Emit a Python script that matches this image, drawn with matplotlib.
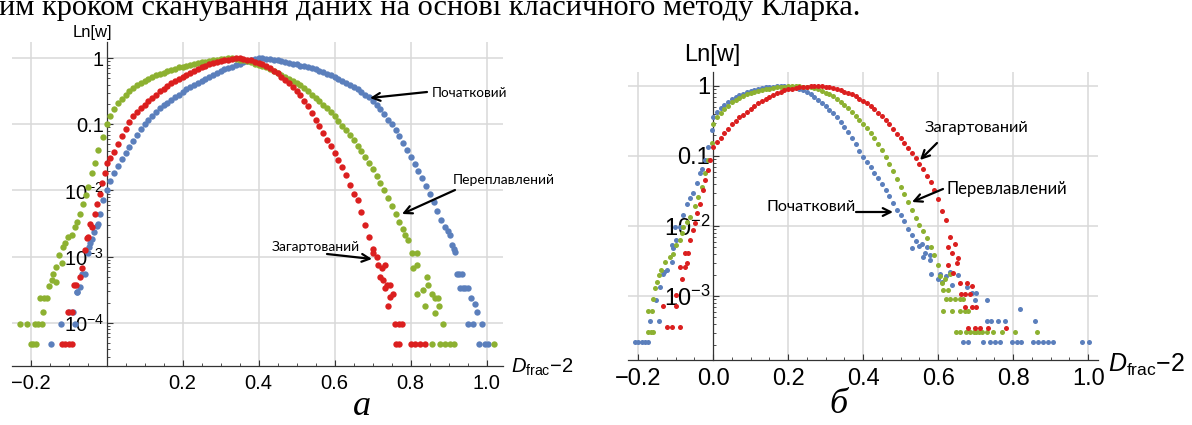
import numpy as np
import matplotlib
matplotlib.use('Agg')
import matplotlib.pyplot as plt
from matplotlib.ticker import FixedLocator, FixedFormatter, LogLocator, NullFormatter

plt.rcParams['font.family'] = ['Liberation Sans', 'DejaVu Sans']
plt.rcParams['mathtext.fontset'] = 'custom'
plt.rcParams['mathtext.rm'] = 'Liberation Sans'
plt.rcParams['mathtext.it'] = 'Liberation Sans:italic'
plt.rcParams['mathtext.bf'] = 'Liberation Sans:bold'

W, H = 1192, 425

# ---------------- data (log10 of w) ----------------
STEP = 0.01
# Panel a
A_BLUE_X0 = 0.00
A_BLUE_LOG = [-2.00, -1.86, -1.74, -1.63, -1.53, -1.43, -1.34, -1.25, -1.16, -1.07,
              -0.99, -0.93, -0.87, -0.81, -0.76, -0.71, -0.67, -0.63, -0.59, -0.55,
              -0.51, -0.47, -0.44, -0.41, -0.38, -0.35, -0.32, -0.29, -0.26, -0.23,
              -0.20, -0.17, -0.15, -0.13, -0.10, -0.08, -0.06, -0.04, -0.02, -0.01,
              0.00, 0.00, -0.01, -0.01, -0.02, -0.03, -0.04, -0.05, -0.07, -0.08,
              -0.09, -0.11, -0.12, -0.14, -0.15, -0.17, -0.19, -0.21, -0.24, -0.26,
              -0.29, -0.32, -0.35, -0.38, -0.41, -0.44, -0.47, -0.51, -0.55, -0.59,
              -0.64, -0.70, -0.77, -0.85, -0.93, -1.00, -1.09, -1.18, -1.28, -1.39,
              -1.50, -1.60, -1.70, -1.81, -1.93, -2.05, -2.18, -2.31, -2.45]
A_BLUE_TAIL_X = [-0.009, -0.018, -0.022, -0.026, -0.033, -0.039, -0.044, -0.046, -0.048, -0.057,
                 -0.066, -0.070, -0.077, -0.079, -0.088, -0.100, -0.083, -0.120, -0.147,
                 0.891, 0.897, 0.903, 0.908, 0.913, 0.917, 0.921, 0.928, 0.934,
                 0.930, 0.937, 0.944, 0.951, 0.958, 0.969, 0.974,
                 0.952, 0.965, 0.987, 0.980, 0.996, 1.004]
A_BLUE_TAIL_LOG = [-2.15, -2.35, -2.50, -2.53, -2.63, -2.73, -2.80, -2.85, -2.95, -3.26,
                   -3.26, -3.46, -3.54, -3.54, -3.84, -3.84, -4.02, -4.02, -4.32,
                   -2.55, -2.62, -2.67, -2.83, -2.88, -2.93, -3.26, -3.26, -3.26,
                   -3.48, -3.48, -3.48, -3.48, -3.62, -3.71, -3.84,
                   -4.02, -4.02, -4.02, -4.32, -4.32, -4.32]

A_GREEN_X0 = 0.00
A_GREEN_LOG = [-1.00, -0.88, -0.77, -0.68, -0.61, -0.55, -0.50, -0.45, -0.41, -0.37,
               -0.34, -0.31, -0.28, -0.26, -0.24, -0.22, -0.20, -0.18, -0.16, -0.14,
               -0.13, -0.11, -0.10, -0.08, -0.07, -0.06, -0.05, -0.04, -0.03, -0.02,
               -0.01, -0.01, 0.00, 0.00, -0.01, -0.02, -0.03, -0.04, -0.06, -0.08,
               -0.10, -0.12, -0.14, -0.17, -0.19, -0.22, -0.25, -0.28, -0.31, -0.34,
               -0.37, -0.41, -0.45, -0.50, -0.55, -0.60, -0.65, -0.70, -0.76, -0.82,
               -0.88, -0.95, -1.02, -1.09, -1.16, -1.24, -1.32, -1.40, -1.49, -1.58,
               -1.68, -1.78, -1.89, -2.00, -2.12, -2.24, -2.36, -2.48, -2.58]
A_GREEN_TAIL_X = [-0.009, -0.022, -0.031, -0.039, -0.048, -0.055, -0.062, -0.070, -0.078, -0.083,
                  -0.092, -0.101, -0.110, -0.114, -0.125, -0.118, -0.132, -0.140, -0.145, -0.133,
                  -0.151, -0.175, -0.165, -0.157, -0.168, -0.228, -0.210, -0.189, -0.180, -0.171,
                  -0.200, -0.193, -0.185,
                  0.785, 0.794, 0.803, 0.816, 0.807, 0.816, 0.842, 0.846, 0.833, 0.855,
                  0.816, 0.864, 0.873, 0.838, 0.875, 0.864, 0.886, 0.855, 0.877, 0.890,
                  0.903, 0.914, 1.019]
A_GREEN_TAIL_LOG = [-1.19, -1.39, -1.59, -1.74, -1.95, -2.07, -2.20, -2.35, -2.47, -2.55,
                    -2.68, -2.70, -2.80, -2.85, -2.98, -3.10, -3.16, -3.26, -3.36, -3.38,
                    -3.45, -3.62, -3.62, -3.62, -3.84, -4.02, -4.02, -4.02, -4.02, -4.02,
                    -4.32, -4.32, -4.32,
                    -2.68, -2.75, -2.95, -2.95, -3.18, -3.13, -3.31, -3.43, -3.51, -3.56,
                    -3.57, -3.62, -3.62, -3.74, -3.74, -3.86, -4.02, -4.32, -4.32, -4.32,
                    -4.32, -4.32, -4.32]

A_RED_X0 = 0.00
A_RED_LOG = [-1.59, -1.51, -1.42, -1.30, -1.18, -1.07, -0.97, -0.88, -0.82, -0.76,
             -0.70, -0.65, -0.60, -0.55, -0.50, -0.46, -0.42, -0.38, -0.34, -0.31,
             -0.28, -0.25, -0.22, -0.19, -0.16, -0.14, -0.12, -0.09, -0.07, -0.05,
             -0.04, -0.03, -0.02, -0.01, 0.00, 0.00, -0.01, -0.02, -0.03, -0.05,
             -0.07, -0.09, -0.12, -0.15, -0.19, -0.23, -0.28, -0.33, -0.38, -0.43,
             -0.49, -0.56, -0.64, -0.73, -0.83, -0.93, -1.03, -1.13, -1.23, -1.33,
             -1.43, -1.54, -1.65, -1.77, -1.92, -2.05, -2.15, -2.33, -2.52, -2.70,
             -2.88]
A_RED_TAIL_X = [-0.004, -0.013, -0.018, -0.026, -0.031, -0.039, -0.044, -0.048, -0.051, -0.057,
                -0.066, -0.070, -0.081, -0.086, -0.101, -0.092, -0.118, -0.110, -0.100, -0.090,
                0.702, 0.711, 0.715, 0.724, 0.719, 0.728, 0.732, 0.737, 0.746, 0.732,
                0.746, 0.754, 0.739, 0.759, 0.768, 0.776, 0.761, 0.770, 0.800, 0.811,
                0.825, 0.838]
A_RED_TAIL_LOG = [-1.74, -1.89, -2.05, -2.20, -2.35, -2.55, -2.50, -2.70, -2.72, -2.90,
                  -3.18, -3.31, -3.43, -3.43, -3.84, -3.84, -4.32, -4.32, -4.32, -4.32,
                  -2.95, -3.00, -3.13, -3.18, -3.31, -3.36, -3.13, -3.43, -3.43, -3.48,
                  -3.61, -3.56, -3.74, -4.02, -4.02, -4.02, -4.32, -4.32, -4.32, -4.32,
                  -4.32, -4.32]

# Panel b
B_BLUE_X0 = 0.00
B_BLUE_LOG = [-0.45, -0.37, -0.31, -0.27, -0.23, -0.19, -0.16, -0.13, -0.11, -0.09,
              -0.07, -0.06, -0.04, -0.03, -0.02, -0.01, -0.01, 0.00, 0.00, 0.00,
              -0.01, -0.01, -0.02, -0.04, -0.06, -0.08, -0.12, -0.16, -0.20, -0.24,
              -0.29, -0.34, -0.39, -0.45, -0.52, -0.59, -0.66, -0.74, -0.83, -0.93,
              -1.01, -1.09, -1.16, -1.24, -1.31, -1.40, -1.49, -1.57, -1.67, -1.77,
              -1.85, -1.93, -2.04, -2.13, -2.21, -2.29]
B_BLUE_TAIL_X = [-0.004, -0.013, -0.022, -0.031, -0.036, -0.044, -0.053, -0.062, -0.071, -0.080,
                 -0.089, -0.102, -0.098, -0.107, -0.111, -0.111, -0.124, -0.131, -0.135, -0.142,
                 -0.153, -0.169, -0.144, -0.209, -0.200, -0.191, -0.182, -0.173,
                 0.529, 0.556, 0.560, 0.565, 0.569, 0.578, 0.578, 0.582, 0.600, 0.604,
                 0.609, 0.622, 0.631, 0.636, 0.653, 0.676, 0.689, 0.702, 0.698, 0.731,
                 0.818, 0.729, 0.742, 0.760, 0.778, 0.858, 0.667, 0.680, 0.720, 0.738,
                 0.751, 0.764, 0.796, 0.809, 0.822, 0.853, 0.867, 0.880, 0.893, 0.905,
                 0.984, 1.003]
B_BLUE_TAIL_LOG = [-0.63, -0.87, -1.06, -1.18, -1.25, -1.39, -1.53, -1.60, -1.68, -1.85,
                   -2.01, -2.01, -2.20, -2.32, -2.27, -2.51, -2.63, -2.66, -2.68, -2.87,
                   -3.06, -3.35, -3.35, -3.65, -3.65, -3.65, -3.65, -3.65,
                   -2.32, -2.25, -2.44, -2.39, -2.30, -2.41, -2.49, -2.68, -2.75, -2.68,
                   -2.80, -2.72, -2.65, -2.84, -2.70, -2.87, -2.96, -2.96, -3.06, -3.06,
                   -3.19, -3.35, -3.35, -3.35, -3.35, -3.35, -3.66, -3.66, -3.66, -3.66,
                   -3.66, -3.66, -3.66, -3.66, -3.66, -3.66, -3.66, -3.66, -3.66, -3.66,
                   -3.66, -3.66]

B_GREEN_X0 = 0.00
B_GREEN_LOG = [-0.55, -0.44, -0.38, -0.33, -0.28, -0.23, -0.20, -0.17, -0.15, -0.12,
               -0.10, -0.09, -0.07, -0.06, -0.05, -0.04, -0.03, -0.02, -0.01, -0.01,
               0.00, 0.00, 0.00, 0.00, -0.01, -0.01, -0.02, -0.03, -0.05, -0.07,
               -0.10, -0.12, -0.15, -0.19, -0.23, -0.27, -0.32, -0.37, -0.43, -0.49,
               -0.54, -0.60, -0.67, -0.75, -0.83, -0.92, -1.01, -1.11, -1.22, -1.33,
               -1.44, -1.55, -1.66, -1.77, -1.88, -1.98, -2.07, -2.17, -2.30, -2.42,
               -2.56]
B_GREEN_TAIL_X = [-0.004, -0.013, -0.022, -0.031, -0.040, -0.049, -0.062, -0.071, -0.080, -0.084,
                  -0.089, -0.098, -0.116, -0.107, -0.129, -0.138, -0.145, -0.151, -0.155, -0.160,
                  -0.173, -0.164, -0.173, -0.166, -0.160,
                  0.604, 0.609, 0.618, 0.631, 0.613, 0.625, 0.622, 0.631, 0.644, 0.658,
                  0.665, 0.612, 0.636, 0.658, 0.671, 0.680, 0.647, 0.658, 0.674, 0.684,
                  0.695, 0.702, 0.709, 0.718, 0.729, 0.747, 0.769, 0.805, 0.864]
B_GREEN_TAIL_LOG = [-0.82, -1.06, -1.25, -1.44, -1.58, -1.72, -1.87, -1.94, -2.01, -2.10,
                    -2.20, -2.27, -2.44, -2.40, -2.51, -2.63, -2.70, -2.80, -2.88, -3.04,
                    -3.21, -3.21, -3.51, -3.51, -3.51,
                    -2.72, -2.82, -2.75, -2.68, -2.91, -2.91, -3.04, -3.04, -3.04, -3.04,
                    -3.04, -3.21, -3.21, -3.21, -3.21, -3.21, -3.51, -3.51, -3.51, -3.51,
                    -3.51, -3.51, -3.51, -3.51, -3.51, -3.51, -3.51, -3.51, -3.51]

B_RED_X0 = 0.00
B_RED_LOG = [-0.87, -0.80, -0.74, -0.67, -0.61, -0.55, -0.50, -0.45, -0.41, -0.37,
             -0.33, -0.29, -0.25, -0.22, -0.19, -0.16, -0.13, -0.10, -0.08, -0.06,
             -0.05, -0.04, -0.03, -0.02, -0.01, -0.01, 0.00, 0.00, 0.00, 0.00,
             -0.01, -0.02, -0.03, -0.04, -0.06, -0.08, -0.10, -0.12, -0.15, -0.18,
             -0.21, -0.25, -0.29, -0.33, -0.38, -0.43, -0.49, -0.55, -0.61, -0.68,
             -0.75, -0.82, -0.89, -0.96, -1.03, -1.11, -1.19, -1.28, -1.37, -1.48,
             -1.62, -1.78, -1.92]
B_RED_TAIL_X = [-0.009, -0.013, -0.022, -0.027, -0.036, -0.044, -0.049, -0.053, -0.062, -0.076,
                -0.067, -0.071, -0.089, -0.076, -0.082, -0.100, -0.133, -0.098, -0.124, -0.111,
                -0.089,
                0.631, 0.644, 0.636, 0.627, 0.653, 0.649, 0.627, 0.640, 0.658, 0.676,
                0.689, 0.662, 0.671, 0.684, 0.671, 0.689, 0.702, 0.680, 0.698, 0.711,
                0.733, 0.782]
B_RED_TAIL_LOG = [-1.06, -1.20, -1.34, -1.49, -1.68, -1.82, -1.96, -2.06, -2.20, -2.39,
                  -2.39, -2.53, -2.58, -2.58, -2.75, -2.99, -3.14, -3.14, -3.44, -3.44,
                  -3.44,
                  -2.15, -2.25, -2.39, -2.30, -2.46, -2.53, -2.56, -2.67, -2.82, -2.82,
                  -2.85, -2.97, -2.97, -2.97, -3.15, -3.15, -3.15, -3.45, -3.45, -3.45,
                  -3.45, -3.45]

SERIES_NAMES = ['Початковий', 'Переплавлений', 'Загартований']
PANEL_B_NAMES = ['Початковий', 'Перевлавлений', 'Загартований']
A_XTICKS = [-0.2, 0.2, 0.4, 0.6, 0.8, 1.0]
A_XLABELS = ['\u22120.2', '0.2', '0.4', '0.6', '0.8', '1.0']
B_XTICKS = [-0.2, 0.0, 0.2, 0.4, 0.6, 0.8, 1.0]
B_XLABELS = ['\u22120.2', '0.0', '0.2', '0.4', '0.6', '0.8', '1.0']
A_YDEC = [0, -1, -2, -3, -4]
A_YLABELS = ['1', '0.1', r'$10^{-2}$', r'$10^{-3}$', r'$10^{-4}$']
B_YDEC = [0, -1, -2, -3]
B_YLABELS = ['1', '0.1', r'$10^{-2}$', r'$10^{-3}$']
TOP_TEXT = 'им кроком сканування даних на основі класичного методу Кларка.'

BLUE = '#5b7fbc'
GREEN = '#8db131'
RED = '#db1f1f'
GRID = '#d9d9d9'
AXC = '#333333'


def dense(x0, logs):
    xs = np.array([x0 + STEP * i for i in range(len(logs))])
    return xs, 10.0 ** np.array(logs)


def fx(x):
    return x / W


def fy(y):
    return 1 - y / H


fig = plt.figure(figsize=(W / 100, H / 100), dpi=100)

axA = fig.add_axes([fx(12), fy(365.7), 490.7 / W, 324 / H])
axB = fig.add_axes([fx(628), fy(360), 470 / W, 288.3 / H])


def setup(ax, xlim, ylog, xt, xl, ydec, yl, fs, gridx):
    ax.set_xlim(*xlim)
    ax.set_yscale('log')
    ax.set_ylim(10 ** ylog[0], 10 ** ylog[1])
    ax.patch.set_alpha(0)
    for s in ['top', 'right']:
        ax.spines[s].set_visible(False)
    ax.spines['left'].set_position(('data', 0))
    for s in ['left', 'bottom']:
        ax.spines[s].set_color(AXC)
        ax.spines[s].set_linewidth(0.9)
    ax.xaxis.set_major_locator(FixedLocator(xt))
    ax.xaxis.set_major_formatter(FixedFormatter(xl))
    minors = [round(-0.25 + 0.05 * i, 2) for i in range(27)]
    minors = [m for m in minors if xlim[0] <= m <= xlim[1] and abs(round(m / 0.2) * 0.2 - m) > 1e-6]
    ax.xaxis.set_minor_locator(FixedLocator(minors))
    ax.yaxis.set_major_locator(FixedLocator([10.0 ** d for d in ydec]))
    ax.yaxis.set_major_formatter(FixedFormatter(yl))
    ax.yaxis.set_minor_locator(LogLocator(base=10, subs=np.arange(2, 10), numticks=20))
    ax.yaxis.set_minor_formatter(NullFormatter())
    ax.tick_params(which='major', direction='in', length=4.5, width=0.8, color=AXC,
                   labelsize=fs, labelcolor='black')
    ax.tick_params(which='minor', direction='in', length=2.3, width=0.6, color=AXC)
    ax.tick_params(axis='x', which='major', pad=6)
    ax.tick_params(axis='y', which='major', pad=2)
    for g in gridx:
        ax.axvline(g, color=GRID, lw=1.1, zorder=0)
    for d in ydec:
        ax.axhline(10.0 ** d, color=GRID, lw=1.1, zorder=0)


setup(axA, (-0.249, 1.042), (-4.65, 0.25), A_XTICKS, A_XLABELS, A_YDEC, A_YLABELS, 14.5, A_XTICKS)
setup(axB, (-0.227, 1.026), (-3.914, 0.204), B_XTICKS, B_XLABELS, B_YDEC, B_YLABELS, 17,
      [t for t in B_XTICKS if t != 0.0])

for ax, groups, s in [
    (axA, [(A_BLUE_X0, A_BLUE_LOG, A_BLUE_TAIL_X, A_BLUE_TAIL_LOG, BLUE),
           (A_GREEN_X0, A_GREEN_LOG, A_GREEN_TAIL_X, A_GREEN_TAIL_LOG, GREEN),
           (A_RED_X0, A_RED_LOG, A_RED_TAIL_X, A_RED_TAIL_LOG, RED)], 21),
    (axB, [(B_BLUE_X0, B_BLUE_LOG, B_BLUE_TAIL_X, B_BLUE_TAIL_LOG, BLUE),
           (B_GREEN_X0, B_GREEN_LOG, B_GREEN_TAIL_X, B_GREEN_TAIL_LOG, GREEN),
           (B_RED_X0, B_RED_LOG, B_RED_TAIL_X, B_RED_TAIL_LOG, RED)], 13)]:
    for x0, logs, tx, tl, col in groups:
        xs, ys = dense(x0, logs)
        ax.scatter(xs, ys, s=s, color=col, linewidths=0, zorder=3)
        ax.scatter(tx, 10.0 ** np.array(tl), s=s, color=col, linewidths=0, zorder=3)

# axis titles
fig.text(fx(92), fy(33), 'Ln[w]', fontsize=12, ha='center', va='center')
fig.text(fx(712), fy(55), 'Ln[w]', fontsize=17, ha='center', va='center')
fig.text(fx(511), fy(367), r'$D_{\mathrm{frac}}$' + '\u22122', fontsize=14.5, ha='left', va='center')
fig.text(fx(1108), fy(365), r'$D_{\mathrm{frac}}$' + '\u22122', fontsize=18, ha='left', va='center')

# captions
fig.text(fx(362), fy(415), 'а', fontsize=26, family='Liberation Serif', style='italic',
         ha='center', va='baseline')
fig.text(fx(838), fy(413), 'б', fontsize=26, family='Liberation Serif', style='italic',
         ha='center', va='baseline')

renderer = fig.canvas.get_renderer()


def fit_text(x, y, s, target_w, fs0, **kw):
    t = fig.text(fx(x), fy(y), s, fontsize=fs0, **kw)
    w = t.get_window_extent(renderer).width
    t.set_fontsize(fs0 * target_w / w)
    return t


fit_text(-1, 15, TOP_TEXT, 862, 26, family='Liberation Serif', ha='left', va='baseline')

ANN_FONT = ['Lato', 'DejaVu Sans']
fit_text(432, 93, SERIES_NAMES[0], 75, 11, family=ANN_FONT, ha='left', va='center')
fit_text(453, 180, SERIES_NAMES[1], 102, 11, family=ANN_FONT, ha='left', va='center')
fit_text(272, 247, SERIES_NAMES[2], 88, 11, family=ANN_FONT, ha='left', va='center')
fit_text(925, 128, PANEL_B_NAMES[2], 103, 13, family=ANN_FONT, ha='left', va='center')
fit_text(947, 189, PANEL_B_NAMES[1], 120, 13, family=ANN_FONT, ha='left', va='center')
fit_text(766, 207, PANEL_B_NAMES[0], 89, 13, family=ANN_FONT, ha='left', va='center')


def arrow(x1, y1, x2, y2):
    fig.add_artist(matplotlib.patches.FancyArrowPatch(
        (fx(x1), fy(y1)), (fx(x2), fy(y2)), transform=fig.transFigure,
        arrowstyle='->', mutation_scale=14, lw=1.6, color='black', shrinkA=0, shrinkB=0))


arrow(427, 92, 370, 98)
arrow(455, 190, 402, 214)
arrow(327, 254, 372, 259)
arrow(937, 143, 920, 160)
arrow(943, 189, 912, 202)
arrow(856, 212, 893, 212)

fig.savefig('out.png', dpi=100)
